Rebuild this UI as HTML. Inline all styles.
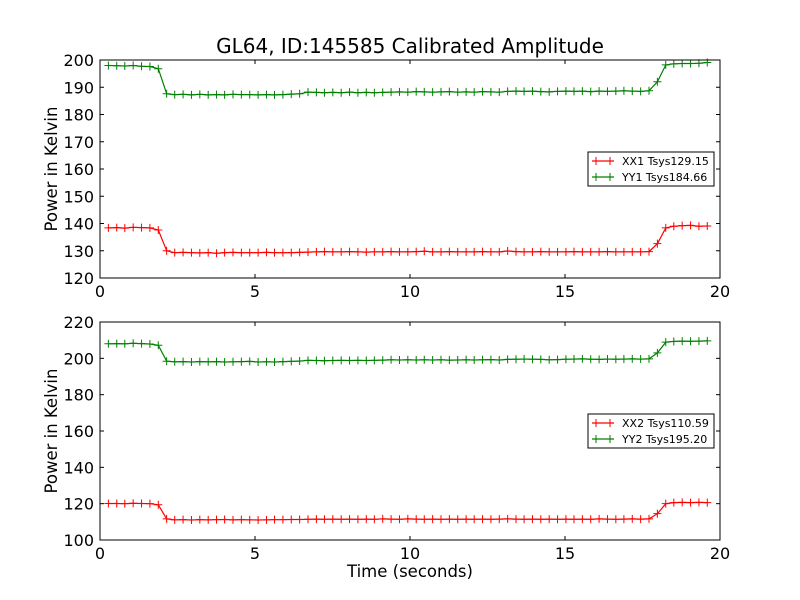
<!DOCTYPE html>
<html><head><meta charset="utf-8"><style>
body{margin:0;background:#fff}
svg{display:block;font-family:"DejaVu Sans","Liberation Sans",sans-serif}
</style></head><body>
<svg id="chart" width="800" height="600">
<rect width="800" height="600" fill="#fff"/>
<text x="410" y="53" font-size="20" text-anchor="middle">GL64, ID:145585 Calibrated Amplitude</text>
<g id="p1"></g>
<g id="p2"></g>
<text x="410" y="577" font-size="16.5" text-anchor="middle">Time (seconds)</text>
</svg>
<script>
const times=[0.27,0.54,0.80,1.07,1.34,1.61,1.88,2.15,2.41,2.68,2.95,3.22,3.49,3.76,4.02,4.29,4.56,4.83,5.10,5.37,5.63,5.90,6.17,6.44,6.71,6.98,7.24,7.51,7.78,8.05,8.32,8.59,8.85,9.12,9.39,9.66,9.93,10.20,10.46,10.73,11.00,11.27,11.54,11.81,12.07,12.34,12.61,12.88,13.15,13.42,13.68,13.95,14.22,14.49,14.76,15.03,15.29,15.56,15.83,16.10,16.37,16.64,16.90,17.17,17.44,17.71,17.98,18.25,18.51,18.78,19.05,19.32,19.59];
const yy1=[198,197.9,197.8,198,197.7,197.6,196.8,187.6,
187.3,187.4,187.2,187.4,187.2,187.3,187.2,187.4,187.3,187.3,187.2,187.3,187.2,187.3,187.5,187.6,
188.2,188.1,188.0,188.1,188.0,188.2,188.0,188.1,188.0,188.1,
188.2,188.3,188.2,188.4,188.3,188.2,188.3,188.4,188.2,188.3,
188.2,188.4,188.3,188.2,188.5,188.6,188.5,188.6,188.4,188.3,
188.5,188.6,188.5,188.6,188.4,188.6,188.5,188.6,188.7,188.6,188.5,188.7,
192,198.2,198.6,198.7,198.7,198.8,199.1];
const xx1=[138.4,138.5,138.3,138.6,138.5,138.4,137.6,130,
129.3,129.4,129.3,129.2,129.3,129.1,129.3,129.4,129.3,129.3,129.3,129.4,129.3,129.3,129.3,129.4,
129.5,129.6,129.7,129.6,129.6,129.7,129.6,129.5,129.6,129.6,
129.7,129.6,129.6,129.7,129.8,129.6,129.6,129.7,129.6,129.6,
129.6,129.7,129.6,129.6,129.9,129.7,129.6,129.6,129.7,129.6,
129.6,129.6,129.7,129.6,129.6,129.6,129.7,129.6,129.6,129.6,129.6,129.7,
132.6,138.4,139,139.2,139.3,139,139.1];
const yy2=[208,208.1,208,208.3,208.1,207.9,207.2,198.4,
198.1,198.2,198,198.2,198.1,198.2,198,198.1,198.2,198.3,198,198.1,198,198.2,198.3,198.5,
198.9,198.8,198.7,198.8,198.9,198.8,198.9,198.8,198.9,199,
199.2,199.1,199.2,199.1,199.2,199.1,199.2,199,199.1,199.2,
199.1,199.2,199.3,199.1,199.4,199.5,199.6,199.5,199.4,199.2,
199.3,199.5,199.6,199.7,199.5,199.4,199.6,199.5,199.6,199.7,199.6,199.7,
203,208.9,209.3,209.5,209.4,209.5,209.6];
const xx2=[120.1,120.1,120,120.2,120.1,120,119.4,111.6,
111.1,111.2,111,111.2,111.1,111.2,111.3,111.1,111.2,111.1,111,111.1,111.2,111.2,111.3,111.3,
111.4,111.5,111.4,111.5,111.4,111.5,111.4,111.5,111.4,111.6,
111.5,111.4,111.6,111.5,111.4,111.5,111.4,111.5,111.4,111.5,
111.4,111.5,111.4,111.5,111.6,111.5,111.4,111.5,111.4,111.5,
111.4,111.5,111.4,111.5,111.4,111.6,111.5,111.4,111.5,111.6,111.5,111.6,
114.5,120,120.6,120.7,120.6,120.7,120.6];
const xTicks=[0,5,10,15,20];
const yTicks1=[120,130,140,150,160,170,180,190,200];
const yTicks2=[100,120,140,160,180,200,220];
const legend1=["XX1 Tsys129.15","YY1 Tsys184.66"];
const legend2=["XX2 Tsys110.59","YY2 Tsys195.20"];
const NS="http://www.w3.org/2000/svg";
function mk(tag,attrs,parent){const e=document.createElementNS(NS,tag);for(const k in attrs)e.setAttribute(k,attrs[k]);parent.appendChild(e);return e;}
function drawPanel(g,top,bottom,ymin,ymax,yTicks,series,legend,ly,pfx){
  const L=100,R=720;
  const sx=v=>L+(v-0)/(20-0)*(R-L);
  const sy=v=>bottom-(v-ymin)/(ymax-ymin)*(bottom-top);
  xTicks.forEach(t=>{
    const x=sx(t);
    const a=mk('line',{x1:x,x2:x,y1:bottom,y2:bottom-4,stroke:'#000'},g);
    
    mk('line',{x1:x,x2:x,y1:top,y2:top+4,stroke:'#000'},g);
    const tx=mk('text',{x:x,y:bottom+19,'font-size':16,'text-anchor':'middle'},g);tx.textContent=t;
    
  });
  yTicks.forEach(t=>{
    const y=sy(t);
    mk('line',{x1:L,x2:L+4,y1:y,y2:y,stroke:'#000'},g);
    mk('line',{x1:R,x2:R-4,y1:y,y2:y,stroke:'#000'},g);
    const tx=mk('text',{x:L-6,y:y+6,'font-size':16,'text-anchor':'end'},g);tx.textContent=t;
    
  });
  series.forEach(s=>{
    const pts=times.map((t,i)=>sx(t).toFixed(1)+','+sy(s.v[i]).toFixed(1)).join(' ');
    const pl=mk('polyline',{points:pts,fill:'none',stroke:s.c,'stroke-width':1.2},g);
    
    times.forEach((t,i)=>{const x=sx(t),y=sy(s.v[i]);
      const m=mk('path',{d:`M${x-4},${y}H${x+4}M${x},${y-4}V${y+4}`,stroke:s.c,'stroke-width':1},g);
      });
  });
  const fr=mk('rect',{x:L,y:top,width:R-L,height:bottom-top,fill:'none',stroke:'#000','stroke-width':1},g);
  
  const yl=mk('text',{x:0,y:0,'font-size':16.5,'text-anchor':'middle',transform:`translate(57,${(top+bottom)/2}) rotate(-90)`},g);
  yl.textContent='Power in Kelvin';
  
  const lg=mk('g',{},g);
  
  mk('rect',{x:588,y:ly,width:126,height:34,fill:'#fff',stroke:'#000','stroke-width':1},lg);
  series.forEach((s,i)=>{const y=ly+9+i*16;
    mk('line',{x1:592,x2:614,y1:y,y2:y,stroke:s.c,'stroke-width':1.2},lg);
    mk('path',{d:`M596,${y-4}V${y+4}M610,${y-4}V${y+4}`,stroke:s.c},lg);
    const t=mk('text',{x:622,y:y+4,'font-size':11},lg);t.textContent=legend[i];
    
  });
}
drawPanel(document.getElementById('p1'),60,278,120,200,yTicks1,[{v:xx1,c:'#ff0000',n:'xx1'},{v:yy1,c:'#008000',n:'yy1'}],legend1,152,'top');
drawPanel(document.getElementById('p2'),322,540,100,220,yTicks2,[{v:xx2,c:'#ff0000',n:'xx2'},{v:yy2,c:'#008000',n:'yy2'}],legend2,414,'bottom');
</script>
</body></html>
